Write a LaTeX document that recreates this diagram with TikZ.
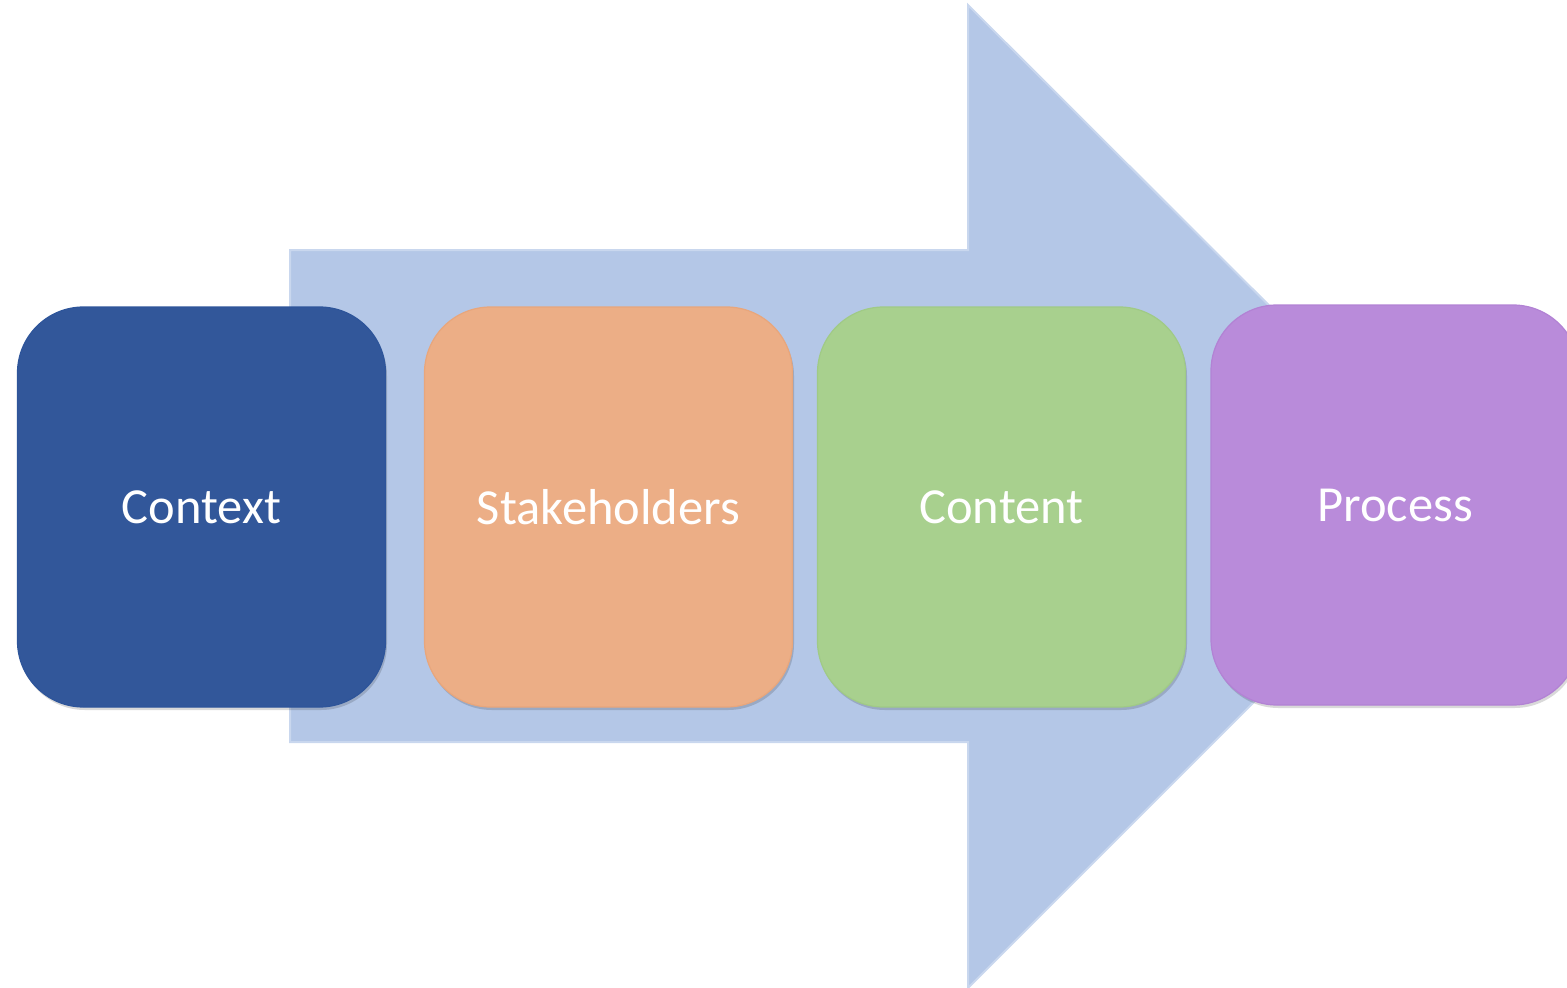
\documentclass[tikz,border=0pt]{standalone}
\usepackage{fontspec}
\setmainfont{Carlito}
\usetikzlibrary{shadows}
\definecolor{arrowblue}{HTML}{B4C7E7}
\definecolor{arrowedge}{HTML}{C9D7EE}
\definecolor{ctxcol}{HTML}{32579A}
\definecolor{ctxedge}{HTML}{2E559A}
\definecolor{stkcol}{HTML}{ECAE86}
\definecolor{stkedge}{HTML}{E8A67C}
\definecolor{cntcol}{HTML}{A8D08E}
\definecolor{cntedge}{HTML}{A0CA86}
\definecolor{prccol}{HTML}{B98BDA}
\definecolor{prcedge}{HTML}{B282D4}
\tikzset{
  stepbox/.style={rectangle, rounded corners=66pt, minimum width=368pt, minimum height=400pt,
    line width=1.2pt, text=white, font=\fontsize{50.5}{60}\selectfont, inner sep=0pt,
    drop shadow={shadow xshift=1.5pt, shadow yshift=-3pt, opacity=0.15, fill=black}},
  bigarrow/.style={fill=arrowblue, draw=arrowedge, line width=2pt, line join=miter}
}
\begin{document}
\begin{tikzpicture}[x=1pt,y=-1pt]
\useasboundingbox (0,0) rectangle (1567,988);
% big background arrow
\coordinate (a1) at (290,250);
\coordinate (a2) at (968,250);
\coordinate (a3) at (968,5);
\coordinate (tip) at (1460,496);
\coordinate (a4) at (968,988);
\coordinate (a5) at (968,742);
\coordinate (a6) at (290,742);
\draw[bigarrow] (a1) -- (a2) -- (a3) -- (tip) -- (a4) -- (a5) -- (a6) -- cycle;
% boxes
\node[stepbox, fill=ctxcol, draw=ctxedge] (context) at (201.5,507) {Context};
\node[stepbox, fill=stkcol, draw=stkedge] (stake) at (608.5,507) {Stakeholders};
\node[stepbox, fill=cntcol, draw=cntedge] (content) at (1001.5,507) {Content};
\node[stepbox, fill=prccol, draw=prcedge] (process) at (1395,505) {Process};
\end{tikzpicture}
\end{document}
